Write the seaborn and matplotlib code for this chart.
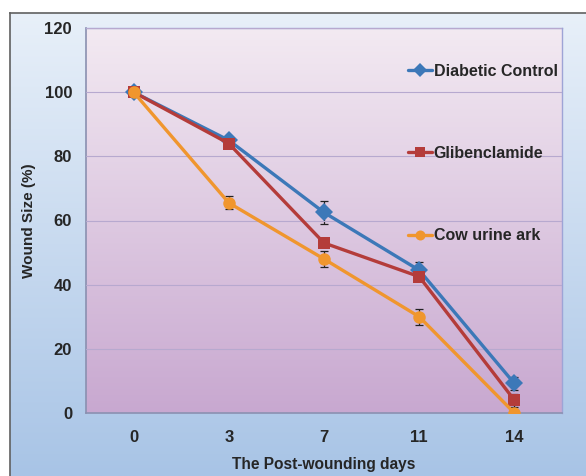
import numpy as np
import pandas as pd
import matplotlib
matplotlib.use('Agg')
import matplotlib.pyplot as plt
import seaborn as sns
from matplotlib.colors import LinearSegmentedColormap

# data
days = ['0', '3', '7', '11', '14']
groups = ['Diabetic Control', 'Glibenclamide', 'Cow urine ark']
diabetic = [100, 85, 62.5, 44.5, 9.2]
diabetic_err = [0.8, 1.0, 3.7, 2.5, 2.0]
gliben = [100, 84, 53, 42.5, 4]
gliben_err = [0.8, 1.0, 1.2, 1.5, 2.0]
cow = [100, 65.5, 48, 30, 0]
cow_err = [0.8, 2.0, 2.5, 2.5, 0.5]

colors = ['#3C78B8', '#B43C3A', '#F0962E']
markers = ['D', 's', 'o']

df = pd.DataFrame({
    'day': days * 3,
    'size': diabetic + gliben + cow,
    'err': diabetic_err + gliben_err + cow_err,
    'group': [g for g in groups for _ in days],
})

sns.set_style('white')
plt.rcParams['font.family'] = ['Liberation Sans', 'DejaVu Sans']
plt.rcParams['font.weight'] = 'bold'

fig = plt.figure(figsize=(5.86, 4.76), dpi=100)
fig.patch.set_facecolor('white')

# outer chart box with blue gradient
bg = fig.add_axes([10/586, 0, 1 - 10/586, (476 - 13)/476], zorder=-2)
outer_cmap = LinearSegmentedColormap.from_list('outer', ['#E8F0F9', '#A8C4E6'])
bg.imshow(np.linspace(0, 1, 256).reshape(-1, 1), aspect='auto', cmap=outer_cmap,
          extent=[0, 1, 0, 1])
bg.set_xlim(0, 1)
bg.set_ylim(0, 1)
bg.set_xticks([])
bg.set_yticks([])
for s in ['right', 'bottom']:
    bg.spines[s].set_visible(False)
for s in ['left', 'top']:
    bg.spines[s].set_color('#606060')
    bg.spines[s].set_linewidth(1.2)

ax = fig.add_axes([86/586, (476 - 413)/476, (562 - 86)/586, (413 - 28)/476])
inner_cmap = LinearSegmentedColormap.from_list('inner', ['#F3EAF2', '#C8A8D0'])
ax.imshow(np.linspace(0, 1, 256).reshape(-1, 1), aspect='auto', cmap=inner_cmap,
          extent=[0, 1, 0, 1], transform=ax.transAxes, zorder=0)

sns.lineplot(data=df, x='day', y='size', hue='group', style='group',
             palette=colors, markers=markers, dashes=False, sort=False,
             linewidth=2.4, markersize=9, markeredgewidth=0, ax=ax, zorder=3)

for i, g in enumerate(groups):
    sub = df[df['group'] == g]
    ax.errorbar(np.arange(len(days)), sub['size'], yerr=sub['err'], fmt='none',
                ecolor='#222222', elinewidth=0.9, capsize=3, capthick=0.9, zorder=2)

ax.set_xlim(-0.5, 4.5)
ax.set_ylim(0, 120)
ax.set_yticks(np.arange(0, 121, 20))
ax.yaxis.grid(True, color='#B7A9CF', linewidth=0.8)
ax.set_axisbelow(False)
ax.set_xticks(np.arange(len(days)))
ax.set_xticklabels(days)
ax.set_xticks(np.arange(-0.5, 5, 1), minor=True)
ax.tick_params(axis='x', which='major', length=0, pad=12, labelsize=12)
ax.tick_params(axis='x', which='minor', length=4, color='#8A90B0', direction='out')
ax.tick_params(axis='y', length=5, color='#8A90B0', direction='out', pad=5, labelsize=12)
for lab in ax.get_xticklabels() + ax.get_yticklabels():
    lab.set_fontweight('bold')

for s in ['top', 'right']:
    ax.spines[s].set_color('#9EA4D6')
    ax.spines[s].set_linewidth(1)
for s in ['left', 'bottom']:
    ax.spines[s].set_color('#8A90B0')
    ax.spines[s].set_linewidth(1.2)

ax.set_xlabel('The Post-wounding days', fontsize=11.2, fontweight='bold')
ax.set_ylabel('Wound Size (%)', fontsize=11, fontweight='bold')
ax.xaxis.set_label_coords(0.5, (413 - 464) / 385, transform=ax.transAxes)
ax.yaxis.set_label_coords((29 - 86) / 476, 0.5, transform=ax.transAxes)
ax.xaxis.label.set_va('center')
ax.yaxis.label.set_va('center')

handles, labels = ax.get_legend_handles_labels()
ax.legend(handles, labels, loc='upper left', bbox_to_anchor=(408/586, 1 - 64/476),
          bbox_transform=fig.transFigure, frameon=False, markerscale=0.8,
          handlelength=1.5, handletextpad=0.1, labelspacing=4.2, borderpad=0,
          borderaxespad=0, prop={'weight': 'bold', 'size': 11.5})

fig.savefig('out.png', dpi=100)
